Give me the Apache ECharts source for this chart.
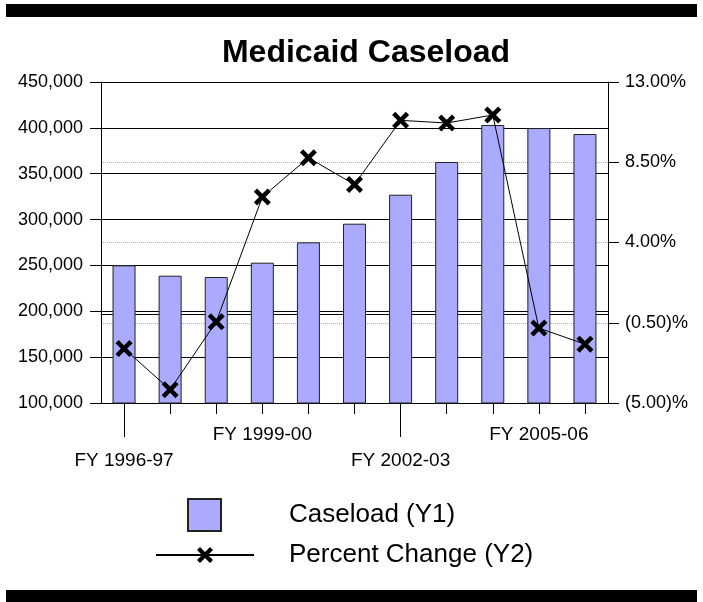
<!DOCTYPE html>
<html>
<head>
<meta charset="utf-8">
<script src="https://cdn.jsdelivr.net/npm/echarts@6/dist/echarts.min.js"></script>
<style>
  html, body { margin: 0; padding: 0; background: #fff; }
  #chart-main { width: 703px; height: 602px; }
</style>
</head>
<body>
<div id="chart-main"></div>
<script>
// fiscal years on the x axis
var years = ['FY 1996-97', 'FY 1997-98', 'FY 1998-99', 'FY 1999-00', 'FY 2000-01', 'FY 2001-02',
  'FY 2002-03', 'FY 2003-04', 'FY 2004-05', 'FY 2005-06', 'FY 2006-07'];
// average monthly caseload (Y1)
var caseload = [250100, 238800, 237400, 253000, 275200, 295500, 327100, 362800, 403100, 399800, 393300];
// percent change from prior year (Y2)
var pctChange = [-1.95, -4.25, -0.45, 6.55, 8.75, 7.25, 10.85, 10.7, 11.15, -0.8, -1.7];

var FONT = '"Liberation Sans", Arial, sans-serif';
// bold "x" marker
var crossPath = 'path://M0,3L3,0L8,5L13,0L16,3L11,8L16,13L13,16L8,11L3,16L0,13L5,8Z';

var chartDom = document.getElementById('chart-main');
var myChart = echarts.init(chartDom);
var option;

// tick-only copy of the category axis
function tickAxis(len, every) {
  return {
    type: 'category',
    data: years,
    position: 'bottom',
    axisLine: { show: false },
    axisTick: {
      show: true,
      alignWithLabel: true,
      length: len,
      interval: function (index) { return index % every === 0; },
      lineStyle: { color: '#000' }
    },
    axisLabel: { show: false },
    splitLine: { show: false }
  };
}

option = {
  backgroundColor: '#fff',
  animation: false,
  title: {
    text: 'Medicaid Caseload',
    left: 361,
    textAlign: 'center',
    top: 32,
    textStyle: { fontFamily: FONT, fontSize: 32, fontWeight: 'bold', color: '#000' }
  },
  graphic: [
    { type: 'rect', shape: { x: 6, y: 4, width: 691, height: 13 }, style: { fill: '#000' } },
    { type: 'rect', shape: { x: 6, y: 590, width: 691, height: 12 }, style: { fill: '#000' } }
  ],
  legend: [
    {
      data: ['Caseload (Y1)'],
      icon: 'rect',
      left: 187,
      top: 498,
      padding: 0,
      itemWidth: 33,
      itemHeight: 32,
      textStyle: { fontFamily: FONT, fontSize: 26, color: '#000', padding: [0, 0, 0, 63] }
    },
    {
      data: ['Percent Change (Y2)'],
      left: 155,
      top: 542,
      padding: 0,
      itemWidth: 98,
      itemHeight: 20,
      textStyle: { fontFamily: FONT, fontSize: 26, color: '#000', padding: [0, 0, 0, 30] }
    }
  ],
  grid: {
    left: 101,
    right: 95,
    top: 82,
    bottom: 199
  },
  xAxis: [
    {
      type: 'category',
      data: years,
      position: 'bottom',
      axisLine: { lineStyle: { color: '#000', width: 1 } },
      axisTick: { show: false },
      axisLabel: {
        interval: 2,
        margin: 22,
        color: '#000',
        fontFamily: FONT,
        fontSize: 19,
        formatter: function (value, index) {
          return index % 6 === 0 ? '{lo|' + value + '}' : '{hi|' + value + '}';
        },
        rich: {
          lo: { fontFamily: FONT, fontSize: 19, color: '#000', padding: [26, 0, 0, 0] },
          hi: { fontFamily: FONT, fontSize: 19, color: '#000' }
        }
      }
    },
    tickAxis(11, 1),
    tickAxis(34, 6)
  ],
  yAxis: [
    {
      type: 'value',
      z: 1,
      min: 100000,
      max: 450000,
      interval: 50000,
      axisLine: { show: true, lineStyle: { color: '#000' } },
      axisTick: { show: true, length: 11, lineStyle: { color: '#000' } },
      axisLabel: {
        margin: 18,
        color: '#000',
        fontFamily: FONT,
        fontSize: 18,
        formatter: function (v) { return v.toLocaleString('en-US'); }
      },
      splitLine: { lineStyle: { color: '#000', width: 1 } }
    },
    {
      type: 'value',
      z: 0,
      position: 'right',
      min: -5,
      max: 13,
      interval: 4.5,
      axisLine: { show: true, lineStyle: { color: '#000' } },
      axisTick: { show: true, length: 11, lineStyle: { color: '#000' } },
      axisLabel: {
        margin: 17,
        color: '#000',
        fontFamily: FONT,
        fontSize: 18,
        formatter: function (v) {
          return v < 0 ? '(' + (-v).toFixed(2) + ')%' : v.toFixed(2) + '%';
        }
      },
      splitLine: { show: true, lineStyle: { color: '#aaa', width: 1, type: [1, 1] } }
    }
  ],
  series: [
    {
      name: 'Caseload (Y1)',
      type: 'bar',
      data: caseload,
      barWidth: 23,
      itemStyle: { color: '#aaaaff', borderColor: '#222', borderWidth: 1 }
    },
    {
      name: 'Percent Change (Y2)',
      type: 'line',
      yAxisIndex: 1,
      data: pctChange,
      symbol: crossPath,
      symbolSize: 17,
      itemStyle: { color: '#000' },
      lineStyle: { color: '#000', width: 1 }
    }
  ]
};

option && myChart.setOption(option);
</script>
</body>
</html>
